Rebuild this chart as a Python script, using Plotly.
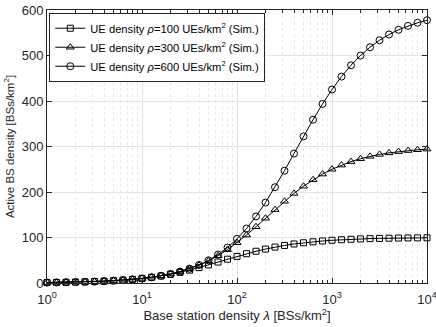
import plotly.graph_objects as go

# base station density, 10 points per decade from 1 to 1e4
bs_density = [10 ** (k / 10) for k in range(41)]

# active BS density
active_rho100 = [1.0, 1.26, 1.58, 2.0, 2.51, 3.16, 3.98, 5.0, 6.29, 7.9,
                 9.91, 12.39, 15.42, 19.06, 23.36, 28.3, 33.82, 39.79, 46.02, 52.34,
                 58.5, 64.35, 69.77, 74.62, 78.9, 82.6, 85.75, 88.41, 90.6, 92.38,
                 93.9, 95.1, 96.08, 96.86, 97.49, 98.0, 98.41, 98.74, 98.99, 99.2,
                 99.36]
active_rho300 = [1.0, 1.26, 1.58, 2.0, 2.51, 3.16, 3.98, 5.01, 6.31, 7.94,
                 10.0, 12.58, 15.82, 19.89, 24.98, 31.3, 39.1, 48.59, 59.96, 73.3,
                 88.55, 105.44, 123.58, 142.41, 161.29, 179.63, 196.92, 212.77, 227.0, 239.38,
                 250.08, 259.15, 266.84, 273.13, 278.35, 282.59, 286.0, 288.83, 291.07, 292.86,
                 294.3]
active_rho600 = [1.0, 1.26, 1.58, 2.0, 2.51, 3.16, 3.98, 5.01, 6.31, 7.94,
                 10.0, 12.59, 15.85, 19.95, 25.1, 31.58, 39.7, 49.84, 62.46, 78.02,
                 96.97, 119.67, 146.31, 176.76, 210.53, 246.79, 284.43, 322.19, 358.9, 393.51,
                 425.21, 453.65, 478.53, 499.92, 518.15, 533.51, 546.16, 556.56, 565.09, 571.97,
                 577.55]

series = [
    ("UE density <i>ρ</i>=100 UEs/km<sup>2</sup> (Sim.)", active_rho100, "square-open", 6),
    ("UE density <i>ρ</i>=300 UEs/km<sup>2</sup> (Sim.)", active_rho300, "triangle-up-open", 7),
    ("UE density <i>ρ</i>=600 UEs/km<sup>2</sup> (Sim.)", active_rho600, "circle-open", 7),
]

fig = go.Figure()
for name, vals, sym, sz in series:
    fig.add_trace(go.Scatter(
        x=bs_density, y=vals, name=name, mode="lines+markers",
        line=dict(color="black", width=1), cliponaxis=False,
        marker=dict(symbol=sym, size=sz, color="black", line=dict(width=1)),
    ))

axis_font = dict(family="Liberation Sans, Arial", size=13, color="#262626")

fig.update_layout(
    width=436, height=327,
    margin=dict(l=47, r=9, t=10, b=44, autoexpand=False),
    paper_bgcolor="white", plot_bgcolor="white",
    font=dict(family="Liberation Sans, Arial", size=12, color="#262626"),
    legend=dict(x=0.006, y=0.99, xanchor="left", yanchor="top",
                bgcolor="white", bordercolor="#262626", borderwidth=1,
                font=dict(size=11.2, color="black"), tracegroupgap=0,
                itemwidth=30),
    xaxis=dict(
        type="log", range=[0, 4], automargin=False,
        tickvals=[1, 10, 100, 1000, 10000],
        ticktext=["10<sup>0</sup>", "10<sup>1</sup>", "10<sup>2</sup>",
                  "10<sup>3</sup>", "10<sup>4</sup>"],
        ticklabeloverflow="allow", ticklabelstandoff=4,
        ticks="inside", ticklen=5, tickcolor="#262626",
        showline=True, linecolor="#262626", mirror="ticks", linewidth=1,
        showgrid=True, gridcolor="#e3e3e3", gridwidth=1,
        minor=dict(dtick="D1", showgrid=True, gridcolor="#e8e8e8", griddash="dot",
                   ticks="inside", ticklen=3, tickcolor="#262626"),
        zeroline=False,
        tickfont=axis_font,
        title=dict(text="Base station density <i>λ</i> [BSs/km<sup>2</sup>]",
                   font=axis_font, standoff=0),
    ),
    yaxis=dict(
        range=[0, 600], tickvals=[0, 100, 200, 300, 400, 500, 600], automargin=False,
        ticks="inside", ticklen=5, tickcolor="#262626",
        showline=True, linecolor="#262626", mirror="ticks", linewidth=1,
        showgrid=True, gridcolor="#e3e3e3", gridwidth=1,
        zeroline=False,
        tickfont=axis_font,
        title=dict(text="Active BS density [BSs/km<sup>2</sup>]",
                   font=dict(family="Liberation Sans, Arial", size=11.5, color="#262626"),
                   standoff=4),
    ),
)

# drop the default page margin so the figure sits at the window's corner
fig.write_html("out.html", config={"displayModeBar": False},
               post_script="document.body.style.margin='0';")
